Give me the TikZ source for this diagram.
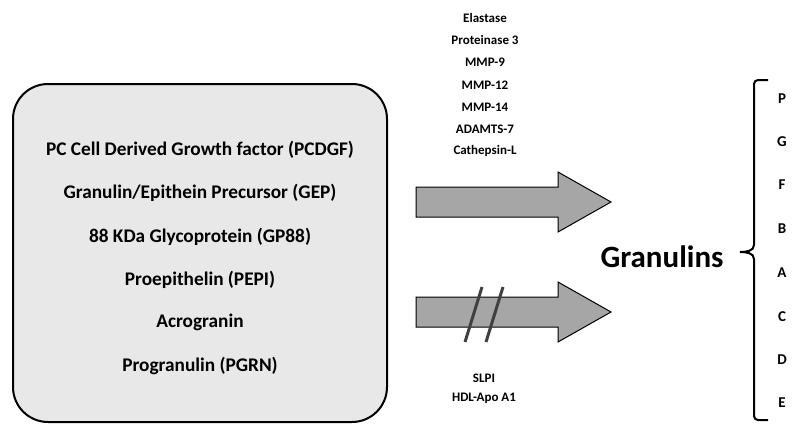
\documentclass[tikz,border=0pt]{standalone}
\usepackage{fontspec}
\setmainfont{Carlito}
\usepackage{tikz}
\tikzstyle{pcbox} = [draw=black, line width=2pt, fill=black!9, rounded corners=35pt, minimum width=374pt, minimum height=338pt]
\tikzstyle{alias} = [font={\fontsize{19.3}{21}\selectfont\bfseries}, inner sep=0pt]
\tikzstyle{enz} = [font={\fontsize{13}{15}\selectfont\bfseries}, inner sep=0pt]
\tikzstyle{gran} = [font={\fontsize{15}{17}\selectfont\bfseries}, inner sep=0pt]
\tikzstyle{fat} = [draw=black, line width=1pt, fill=black!35]
\tikzstyle{cutmark} = [draw=black!75, line width=3pt]
\tikzstyle{brace} = [draw=black, line width=2pt]

\begin{document}
\begin{tikzpicture}[x=1pt,y=-1pt]
        \useasboundingbox (0,0) rectangle (800,436);
        \node[pcbox](box) at (200,253){};
        \node[alias](pcdgf) at (200,150){PC Cell Derived Growth factor (PCDGF)};
        \node[alias](gep) at (200,193){Granulin/Epithein Precursor (GEP)};
        \node[alias](gp) at (200,237){88 KDa Glycoprotein (GP88)};
        \node[alias](pepi) at (200,280){Proepithelin (PEPI)};
        \node[alias](acro) at (200,322){Acrogranin};
        \node[alias](pgrn) at (200,366){Progranulin (PGRN)};
        \node[enz](ela) at (485,18){Elastase};
        \node[enz](pr3) at (485,40){Proteinase 3};
        \node[enz](mmp9) at (485,62){MMP-9};
        \node[enz](mmp12) at (485,85){MMP-12};
        \node[enz](mmp14) at (485,107){MMP-14};
        \node[enz](adamts) at (485,129){ADAMTS-7};
        \node[enz](cat) at (485,151){Cathepsin-L};
        \node[enz](slpi) at (484,378){SLPI};
        \node[enz](hdl) at (484,398){HDL-Apo A1};
        \draw[fat] (416,187) -- (558,187) -- (558,172) -- (611,202) -- (558,232) -- (558,217) -- (416,217) -- cycle;
        \draw[fat] (416,297) -- (558,297) -- (558,282) -- (611,312) -- (558,342) -- (558,327) -- (416,327) -- cycle;
        \draw[cutmark] (465,342) -- (482,287);
        \draw[cutmark] (486,342) -- (503,287);
        \node[font={\fontsize{31}{35}\selectfont\bfseries}, inner sep=0pt](granulins) at (662,257){Granulins};
        \coordinate(tip) at (740,252);
        \draw[brace] (768,80) -- (758,80) to[out=180,in=90] (754,84) -- (754,245) to[out=-90,in=0] (tip) to[out=0,in=90] (754,259) -- (754,416) to[out=-90,in=180] (758,420) -- (768,420);
        \node[gran](p) at (782,99){P};
        \node[gran](g) at (782,142){G};
        \node[gran](f) at (782,185){F};
        \node[gran](b) at (782,229){B};
        \node[gran](a) at (782,273){A};
        \node[gran](c) at (782,317){C};
        \node[gran](d) at (782,360){D};
        \node[gran](e) at (782,403){E};
      \end{tikzpicture}
\end{document}
